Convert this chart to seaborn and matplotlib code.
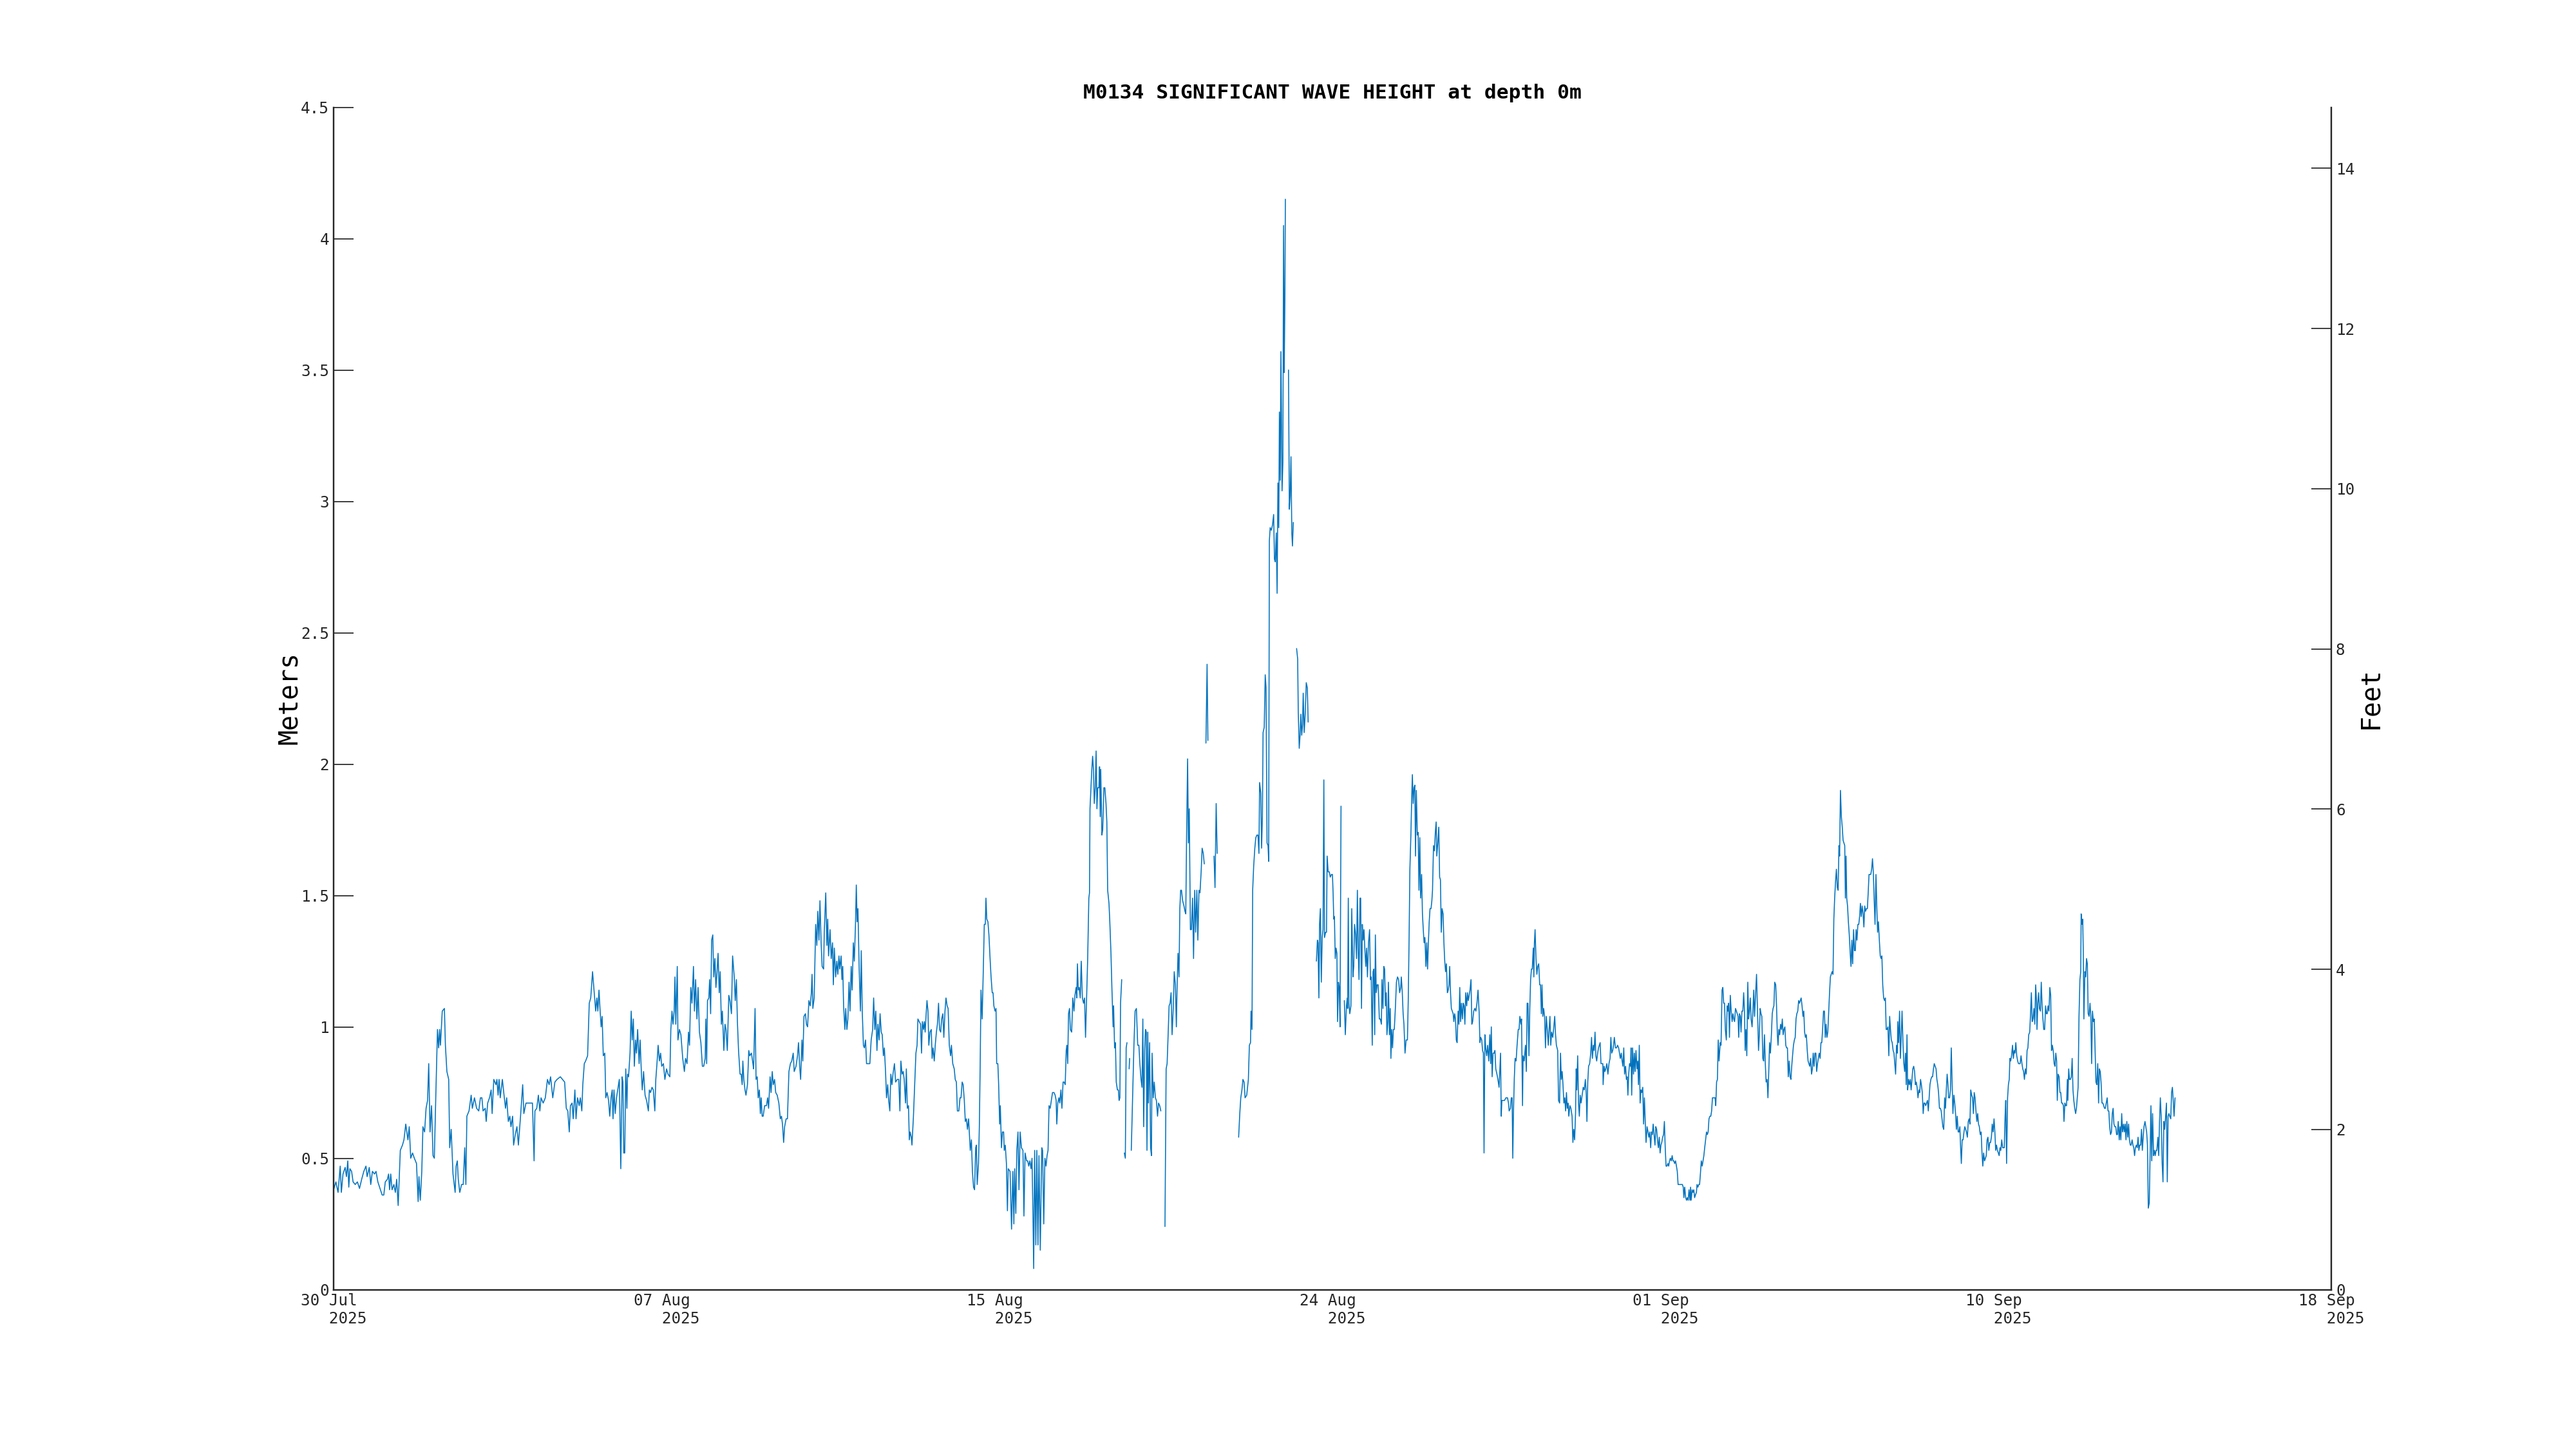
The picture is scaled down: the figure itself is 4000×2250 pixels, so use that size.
import numpy as np
import pandas as pd
import matplotlib
matplotlib.use("Agg")
import matplotlib.pyplot as plt
import seaborn as sns

GAP = None
START = pd.Timestamp("2025-07-30 00:00")
TITLE = "M0134 SIGNIFICANT WAVE HEIGHT at depth 0m"
M_TO_FT = 3.28084

# (hours since 30 Jul 2025 00:00, significant wave height in metres)
jul30_aug04 = [(0.0,0.38),(1.4,0.41),(2.7,0.37),(4.0,0.47),(4.7,0.37),(5.7,0.44),(7.0,0.465),(7.8,0.43),(8.6,0.49),(9.2,0.39),(9.9,0.46),(10.9,0.45),(11.8,0.41),(13.1,0.40),(14.4,0.41),(15.7,0.385),(17.0,0.42),(18.3,0.45),(19.6,0.47),(20.3,0.43),(21.6,0.465),(22.5,0.40),(23.5,0.45),(24.8,0.44),(25.7,0.45),(26.8,0.41),(28.1,0.385),(29.4,0.36),(30.4,0.36),(31.3,0.41),(32.6,0.42),(33.3,0.44),(33.9,0.38),(34.6,0.44),(35.4,0.38),(36.5,0.40),(37.4,0.37),(38.2,0.42),(39.1,0.32),(40.4,0.53),(41.7,0.55),(42.6,0.57),(43.7,0.63),(45.0,0.57),(45.8,0.62),(46.7,0.50),(47.8,0.52),(48.9,0.50),(50.2,0.48),(51.2,0.335),(51.7,0.43),(52.5,0.34),(53.4,0.45),(54.1,0.62),(55.1,0.60),(56.0,0.69),(56.9,0.72),(57.6,0.86),(58.4,0.60),(59.3,0.70),(60.2,0.51),(61.0,0.50),(61.9,0.74),(62.9,0.99),(63.6,0.92),(64.2,0.99),(64.7,0.93),(65.8,1.06),(67.1,1.07),(67.7,0.93),(68.6,0.83),(69.7,0.80),(70.3,0.54),(71.2,0.61),(72.3,0.44),(73.6,0.37),(74.2,0.47),(74.9,0.49),(75.5,0.42),(76.4,0.37),(77.5,0.40),(78.5,0.40),(79.4,0.54),(80.1,0.40),(80.7,0.66),(82.0,0.68),(83.3,0.74),(84.0,0.69),(85.3,0.73),(86.6,0.69),(87.9,0.68),(88.9,0.73),(89.8,0.73),(90.5,0.68),(91.8,0.69),(92.4,0.64),(93.3,0.71),(94.4,0.73),(95.4,0.76),(96.0,0.67),(97.0,0.80),(98.3,0.78),(98.9,0.80),(99.6,0.74),(100.2,0.80),(100.9,0.73),(102.2,0.80),(103.2,0.74),(104.1,0.69),(104.8,0.73),(105.8,0.64),(106.7,0.66),(107.4,0.62),(108.4,0.66),(109.0,0.55),(110.0,0.59),(111.0,0.62),(111.9,0.55),(113.2,0.66),(114.5,0.78),(115.2,0.67),(116.5,0.71),(117.8,0.71),(119.1,0.71),(120.4,0.71),(121.4,0.49),(121.9,0.68),(123.0,0.69),(124.0,0.74),(124.9,0.68),(125.6,0.73),(126.9,0.71),(128.2,0.73),(129.5,0.80),(130.5,0.78),(131.4,0.81),(132.7,0.73),(134.0,0.79),(135.3,0.80)]

aug04_aug10 = [(137.3,0.81),(138.6,0.80),(139.9,0.79),(140.9,0.69),(141.8,0.68),(142.7,0.60),(143.4,0.70),(144.4,0.71),(145.1,0.65),(146.1,0.76),(146.8,0.65),(147.7,0.73),(148.7,0.70),(149.4,0.73),(150.3,0.68),(150.9,0.78),(151.8,0.86),(152.6,0.87),(153.8,0.89),(154.8,1.09),(155.7,1.11),(156.8,1.21),(157.8,1.13),(158.7,1.06),(159.4,1.11),(160.0,1.06),(160.7,1.14),(161.3,1.07),(162.0,1.00),(162.6,1.04),(163.3,0.89),(164.2,0.90),(164.8,0.73),(165.6,0.75),(166.5,0.72),(167.2,0.66),(168.0,0.73),(168.7,0.76),(169.2,0.65),(169.8,0.76),(170.5,0.67),(171.3,0.73),(173.0,0.80),(173.9,0.46),(174.7,0.81),(175.2,0.79),(175.7,0.52),(176.3,0.52),(176.9,0.84),(177.6,0.69),(178.0,0.82),(178.6,0.81),(179.5,0.90),(180.2,1.06),(180.8,0.95),(181.5,1.03),(182.1,0.85),(182.8,0.95),(183.4,0.90),(184.1,0.99),(185.0,0.86),(185.6,0.95),(186.4,0.82),(186.9,0.76),(187.7,0.83),(188.6,0.74),(189.5,0.72),(190.6,0.68),(191.2,0.76),(191.9,0.75),(192.8,0.77),(193.6,0.76),(194.5,0.68),(195.1,0.80),(195.8,0.86),(196.5,0.93),(197.3,0.87),(198.0,0.90),(198.7,0.85),(199.7,0.86),(200.6,0.80),(201.6,0.84),(202.5,0.82),(203.6,0.81),(204.2,0.99),(204.9,1.06),(205.5,1.01),(206.2,1.06),(206.7,1.19),(207.2,1.01),(208.1,1.23),(208.5,0.95),(209.4,0.99),(210.3,0.97),(211.4,0.88),(212.4,0.83),(213.1,0.88),(214.0,0.86),(214.9,0.98),(215.5,0.93),(216.3,1.15),(217.0,1.09),(217.9,1.23),(218.5,1.06),(219.2,1.18),(220.0,1.03),(220.7,1.15),(221.5,0.98),(222.4,0.94),(223.3,0.85),(224.1,0.85),(225.0,0.88),(225.4,1.03),(225.9,0.86),(226.4,1.10),(227.2,1.11),(227.7,1.18),(228.3,1.05),(228.9,1.33),(229.6,1.35),(230.2,1.19),(230.9,1.26),(231.5,1.15),(232.2,1.21),(232.8,1.28),(233.5,1.13),(234.1,1.21),(234.8,1.01),(235.4,1.06),(236.3,0.91),(237.0,1.01),(237.6,0.99),(238.4,0.91),(239.3,1.12),(240.0,1.10),(240.9,1.05),(241.6,1.27),(242.6,1.19),(243.2,1.10),(243.9,1.18),(244.5,1.02),(245.2,0.91),(246.1,0.82),(246.8,0.82),(247.4,0.78),(247.8,0.87),(248.4,0.80),(249.1,0.76),(249.7,0.74),(250.6,0.78),(251.4,0.91),(252.0,0.89),(253.0,0.90),(253.9,0.86),(254.3,0.84),(255.2,1.07),(255.8,0.80),(256.5,0.81),(257.1,0.73),(257.8,0.76),(258.4,0.67),(258.9,0.73),(259.5,0.66),(260.1,0.66),(261.0,0.70),(262.1,0.70),(262.8,0.73),(263.4,0.69),(264.3,0.81),(264.9,0.75),(265.6,0.83),(266.2,0.78),(267.0,0.80),(267.7,0.75),(268.6,0.74),(269.6,0.71),(270.5,0.65),(271.2,0.66),(271.8,0.63),(272.5,0.56),(273.1,0.62),(274.0,0.65),(274.8,0.65),(275.7,0.83),(276.6,0.86),(277.4,0.87)]

aug10_aug17 = [(278.3,0.90),(278.9,0.83),(280.0,0.85),(280.9,0.89),(281.5,0.94),(282.2,0.85),(282.8,0.80),(283.6,0.95),(284.1,0.87),(284.8,1.04),(285.7,1.05),(286.3,1.01),(287.0,1.00),(287.8,1.10),(288.6,1.08),(289.3,1.13),(289.7,1.20),(290.2,1.07),(291.0,1.11),(291.9,1.39),(292.6,1.31),(293.2,1.44),(293.9,1.33),(294.5,1.48),(295.2,1.32),(295.8,1.23),(296.7,1.22),(297.1,1.36),(298.0,1.51),(298.7,1.31),(299.2,1.41),(299.7,1.27),(300.6,1.37),(301.3,1.26),(302.1,1.32),(302.6,1.16),(303.2,1.30),(304.0,1.19),(304.7,1.25),(305.3,1.20),(306.0,1.27),(306.5,1.22),(307.3,1.27),(307.8,1.18),(308.3,1.23),(308.8,1.08),(309.6,0.99),(310.1,1.07),(310.8,0.99),(311.4,1.03),(312.1,1.17),(312.7,1.06),(313.4,1.23),(314.0,1.14),(314.7,1.32),(315.3,1.25),(316.0,1.39),(316.5,1.54),(317.0,1.40),(317.5,1.45),(318.2,1.23),(319.0,1.06),(319.5,1.29),(320.1,1.06),(320.8,0.93),(321.4,0.92),(322.1,0.95),(322.7,0.86),(323.8,0.86),(324.7,0.86),(325.5,0.95),(326.4,0.99),(327.0,1.11),(327.7,0.99),(328.3,1.06),(329.0,0.91),(329.6,1.01),(330.3,0.95),(330.9,1.05),(331.6,0.98),(332.2,0.97),(332.9,0.89),(333.5,0.92),(334.2,0.83),(334.8,0.73),(335.5,0.78),(336.1,0.72),(336.8,0.68),(337.4,0.82),(338.1,0.78),(338.7,0.82),(339.6,0.86),(340.3,0.79),(341.3,0.80),(342.2,0.80),(342.9,0.68),(343.5,0.87),(344.2,0.82),(344.9,0.83),(345.5,0.80),(346.3,0.71),(346.8,0.84),(347.4,0.69),(348.1,0.70),(348.6,0.57),(349.1,0.60),(349.8,0.58),(350.2,0.55),(351.1,0.66),(352.0,0.80),(352.6,0.90),(353.3,0.93),(353.8,1.03),(354.6,1.02),(355.4,1.01),(356.0,0.90),(356.5,1.02),(357.2,0.99),(357.7,1.02),(358.2,0.98),(358.7,1.04),(359.3,1.10),(359.9,1.06),(360.4,0.93),(361.1,0.98),(361.9,0.99),(362.4,0.88),(363.0,0.92),(363.7,0.87),(364.3,0.93),(365.0,0.98),(365.6,1.01),(366.3,1.09),(366.9,0.99),(367.6,0.98),(368.2,1.03),(368.9,1.05),(369.5,0.96),(370.2,1.06),(370.8,1.11),(371.5,1.08),(372.1,1.07),(372.8,0.93),(373.6,0.89),(374.1,0.93),(374.9,0.86),(375.8,0.84),(376.4,0.80),(377.1,0.79),(377.7,0.68),(378.6,0.68),(379.3,0.73),(379.9,0.73),(380.6,0.79),(381.2,0.78),(381.9,0.72),(382.5,0.64),(383.2,0.65),(383.8,0.61),(384.5,0.65),(385.0,0.59),(385.5,0.53),(386.2,0.57),(386.8,0.45),(387.5,0.39),(388.1,0.38),(388.8,0.54),(389.2,0.55),(389.7,0.40),(390.5,0.48),(391.0,0.62),(391.5,0.85),(392.0,1.14),(392.7,1.03),(393.3,1.19),(394.0,1.39),(394.6,1.39),(395.0,1.49),(395.5,1.41),(396.2,1.40),(396.8,1.35),(397.5,1.26),(398.1,1.19),(398.8,1.13),(399.3,1.13),(399.8,1.08),(400.5,1.06),(401.1,1.07),(401.5,0.86),(402.2,0.86),(402.7,0.78),(403.3,0.63),(403.7,0.70),(404.4,0.54),(405.0,0.60),(405.7,0.60),(406.1,0.53),(406.7,0.55),(407.4,0.48),(408.0,0.30),(408.5,0.46),(409.6,0.45),(410.5,0.23),(411.3,0.45),(411.9,0.25),(412.4,0.46),(413.1,0.29),(413.7,0.53),(414.4,0.60),(415.0,0.38),(415.7,0.60),(416.5,0.54),(417.4,0.53)]

aug17_aug23 = [(418.0,0.28),(418.7,0.52),(419.6,0.49),(420.3,0.49),(420.9,0.47),(421.6,0.49),(422.3,0.46),(422.9,0.50),(423.5,0.27),(423.9,0.08),(424.5,0.53),(425.2,0.17),(425.8,0.53),(426.5,0.17),(427.1,0.51),(427.9,0.15),(428.8,0.54),(429.3,0.53),(430.0,0.25),(430.7,0.50),(431.4,0.47),(432.0,0.51),(432.6,0.53),(433.2,0.70),(433.9,0.69),(434.6,0.72),(435.3,0.75),(436.2,0.75),(436.9,0.74),(437.5,0.72),(437.9,0.63),(438.5,0.71),(439.2,0.73),(439.7,0.71),(440.4,0.76),(441.0,0.69),(441.7,0.79),(442.3,0.79),(443.0,0.78),(443.6,0.91),(444.0,0.93),(444.5,0.86),(445.0,1.05),(445.6,1.07),(446.1,0.99),(446.9,0.98),(447.6,1.11),(448.3,1.06),(448.9,1.12),(449.6,1.15),(450.0,1.11),(450.4,1.24),(450.9,1.14),(451.5,1.15),(452.1,1.11),(452.7,1.25),(453.4,1.11),(454.1,1.09),(454.7,1.11),(455.3,0.96),(456.0,1.12),(456.6,1.26),(457.3,1.49),(457.7,1.51),(458.0,1.83),(458.6,1.91),(459.1,1.98),(459.6,2.03),(460.1,1.98),(460.6,1.85),(461.2,1.91),(461.7,2.05),(462.2,1.83),(462.7,1.91),(463.4,1.91),(463.8,1.99),(464.2,1.80),(464.5,1.98),(465.2,1.73),(465.7,1.75),(466.4,1.91),(467.0,1.91),(467.7,1.85),(468.2,1.78),(468.7,1.52),(469.5,1.47),(470.0,1.40),(470.7,1.28),(471.3,1.14),(472.0,1.00),(472.3,1.08),(472.9,0.92),(473.4,0.94),(473.9,0.79),(474.6,0.76),(475.2,0.76),(475.6,0.72),(476.1,0.73),(476.5,1.09),(477.2,1.18),GAP,(478.8,0.52),(479.4,0.50),(479.9,0.92),(480.4,0.94),GAP,(481.7,0.84),(482.0,0.88),GAP,(483.0,0.53),(483.8,0.73),(484.6,0.93),(485.3,1.06),(486.1,1.07),(486.9,0.93),(487.6,0.93),(488.2,0.86),(488.9,0.80),(489.5,0.77),(490.0,1.03),(490.5,0.62),(491.1,0.91),(491.6,0.99),(492.1,0.98),(492.5,0.53),(493.0,0.98),(493.4,0.71),(494.1,0.94),(494.7,0.54),(495.2,0.51),(495.6,0.90),(496.3,0.73),(496.9,0.79),(497.6,0.73),(498.2,0.72),(498.9,0.66),(499.5,0.71),(500.2,0.70),(500.9,0.68),GAP,(503.4,0.24),(504.1,0.84),(504.7,0.86),(505.2,0.95),(505.9,1.08),(506.5,1.09),(507.1,1.13),(507.7,0.97),(508.4,1.07),(509.0,1.21),(509.7,1.16),(510.3,1.00),(510.7,1.14),(511.3,1.28),(511.9,1.19),(512.4,1.45),(512.9,1.52),(513.4,1.52),(514.1,1.48),(514.9,1.46),(515.5,1.44),(516.0,1.43),(516.5,1.73),(517.1,2.02),(517.6,1.70),(518.1,1.83),(518.8,1.37),(519.4,1.37),(520.1,1.49),(520.7,1.26),(521.4,1.52),(522.0,1.36),(522.7,1.52),(523.3,1.33),(524.0,1.52),(524.6,1.51),(525.3,1.59),(525.9,1.68),(526.6,1.66),(527.2,1.62),GAP,(528.2,2.08),(528.9,2.38),(529.4,2.09),GAP,(533.1,1.65),(533.7,1.53),(534.4,1.85),(535.0,1.66),GAP,(548.0,0.58),(548.7,0.67),(549.3,0.73),(550.0,0.76),(550.6,0.80),(551.3,0.79),(551.9,0.73),(552.9,0.74),(553.9,0.80),(554.5,0.93),(555.2,0.94),(555.5,1.06)]

aug23_storm = [(556.1,0.99),(556.5,1.52),(557.1,1.61),(557.8,1.68),(558.4,1.72),(559.05,1.73),(559.7,1.73),(560.3,1.66),(560.7,1.93),(561.4,1.89),(561.9,1.68),(562.4,1.80),(562.8,2.12),(563.5,2.14),(564.1,2.34),(564.6,2.29),(565.2,1.70),(565.8,1.69),(566.2,1.63),(566.6,2.85),(567.1,2.90),(567.8,2.89),(568.5,2.91),(569.2,2.95),(569.7,2.78),(570.2,2.77),(570.8,2.88),(571.3,2.65),(571.8,3.07),(572.3,2.90),(572.7,3.34),(573.2,3.08),(573.6,3.57),(574.3,3.04),(574.8,3.15),(575.2,4.05),(575.6,3.49),(576.0,3.76),(576.3,4.15),GAP,(578.2,3.50),(578.7,2.97),(579.2,3.02),(579.7,3.17),(580.2,2.88),(580.6,2.83),(581.1,2.92),GAP,(583.1,2.44),(583.75,2.40),(584.1,2.20),(584.7,2.06),(585.2,2.11),(585.7,2.19),(586.2,2.11),(586.7,2.15),(587.1,2.27),(587.7,2.12),(588.3,2.19),(588.95,2.31),(589.6,2.29),(590.1,2.16),GAP]

aug24_aug29 = [(595.1,1.25),(595.7,1.33),(596.1,1.32),(596.6,1.11),(597.0,1.39),(597.5,1.45),(598.05,1.17),(598.6,1.34),(599.1,1.37),(599.6,1.94),(600.0,1.34),(600.65,1.36),(601.2,1.36),(601.6,1.65),(602.2,1.59),(602.9,1.59),(603.5,1.57),(604.2,1.58),(604.8,1.58),(605.2,1.51),(605.6,1.41),(606.0,1.42),(606.5,1.26),(607.0,1.30),(607.5,1.28),(607.9,1.02),(608.45,1.17),(608.95,1.15),(609.4,1.00),(610.0,1.84),GAP,(612.0,1.10),(612.6,0.97),(613.3,1.08),(613.8,1.11),(614.0,1.07),(614.4,1.49),(614.8,1.09),(615.3,1.05),(616.0,1.08),(616.5,1.45),(617.2,1.19),(617.7,1.23),(618.2,1.39),(618.85,1.35),(619.4,1.26),(619.9,1.52),(620.4,1.30),(620.9,1.18),(621.5,1.49),(621.9,1.49),(622.4,1.07),(622.9,1.39),(623.4,1.33),(623.9,1.37),(624.4,1.30),(625.0,1.23),(625.5,1.30),(626.0,1.19),(626.65,1.32),(627.3,1.37),(627.8,1.18),(628.3,1.19),(628.9,0.93),(629.4,1.21),(629.9,1.22),(630.4,0.97),(630.8,1.35),(631.3,1.13),(631.85,1.16),(632.5,1.16),(633.2,1.03),(633.8,1.03),(634.45,1.01),(634.8,1.18),(635.4,1.07),(635.9,1.23),(636.4,1.22),(636.9,1.08),(637.4,1.13),(637.8,0.97),(638.35,1.02),(638.7,1.17),(639.3,0.97),(639.8,1.07),(640.2,0.88),(640.7,0.99),(641.2,0.92),(641.7,0.99),(642.25,0.99),(642.9,1.07),(643.55,1.17),(644.2,1.19),(644.85,1.18),(645.5,1.13),(646.15,1.15),(646.5,1.19),(647.1,1.13),(647.6,1.05),(648.1,1.01),(648.75,0.90),(649.4,0.95),(650.2,0.95),(650.7,1.10),(651.2,1.33),(651.7,1.60),(652.3,1.73),(652.8,1.87),(653.2,1.96),(653.7,1.85),(654.2,1.91),(654.7,1.92),(655.1,1.65),(655.6,1.90),(656.2,1.73),(656.7,1.74),(657.2,1.52),(657.7,1.72),(658.2,1.49),(658.8,1.58),(659.3,1.43),(659.8,1.37),(660.3,1.32),(660.8,1.34),(661.4,1.23),(661.9,1.32),(662.4,1.22),(662.9,1.32),(663.4,1.40),(663.9,1.45),(664.5,1.45),(665.0,1.48),(665.4,1.52),(666.0,1.69),(666.6,1.67),(667.1,1.74),(667.6,1.78),(668.0,1.65),(668.6,1.70),(669.2,1.76),(669.7,1.57),(670.2,1.56),(670.7,1.36),(671.2,1.45),(671.8,1.43),(672.3,1.32),(672.8,1.25),(673.3,1.21),(673.8,1.24),(674.4,1.13),(674.9,1.14),(675.4,1.16),(675.8,1.23),(676.3,1.13),(676.8,1.07),(677.35,1.06),(677.9,1.05),(678.3,1.02),(678.8,1.05),(679.3,1.03),(679.8,0.95),(680.3,0.94),(680.9,1.06),(681.4,1.01),(681.9,1.15),(682.4,1.02),(682.9,1.09),(683.5,1.03),(684.0,1.09),(684.5,1.08),(685.0,1.01),(685.5,1.13),(686.1,1.08),(686.6,1.13),(687.1,1.10),(687.6,1.12),(688.1,1.14),(688.7,1.18),(689.2,1.01),(689.7,1.02),(690.35,1.06),(691.0,1.07),(691.65,1.06),(692.3,1.09),(692.95,1.14),(693.6,1.06),(694.1,0.94),(694.6,0.96),(695.2,0.95),(695.7,0.91),(696.2,0.90),(696.6,0.52),(697.1,0.97),(697.6,0.92),(698.2,0.89)]

aug29_sep04 = [(698.8,0.93),(699.45,0.87),(700.1,0.97),(700.6,0.86),(701.0,1.00),(701.5,0.81),(702.05,0.90),(702.7,0.90),(703.2,0.91),(703.7,0.84),(704.4,0.82),(705.0,0.80),(705.7,0.77),(706.1,0.83),(706.6,0.90),(707.0,0.66),(707.4,0.72),(708.2,0.72),(709.0,0.72),(709.85,0.73),(710.8,0.73),(711.4,0.71),(711.8,0.68),(712.6,0.69),(713.1,0.73),(713.6,0.73),(714.0,0.50),(714.4,0.67),(714.9,0.80),(715.4,0.88),(716.0,0.87),(716.6,0.93),(717.3,0.99),(717.8,0.99),(718.3,1.04),(718.95,1.01),(719.3,1.03),(719.9,0.70),(720.25,0.89),(720.9,0.87),(721.7,0.93),(722.2,0.83),(722.7,1.09),(723.2,1.09),(723.8,0.89),(724.3,1.07),(724.8,1.18),(725.3,1.22),(725.8,1.22),(726.4,1.30),(726.75,1.19),(727.1,1.32),(727.5,1.37),(728.05,1.26),(728.6,1.20),(729.1,1.23),(729.7,1.24),(730.3,1.16),(730.8,1.16),(731.3,1.05),(731.7,1.16),(732.2,1.04),(732.7,1.07),(733.25,1.04),(733.8,0.92),(734.3,1.04),(734.9,0.99),(735.5,0.93),(736.0,0.99),(736.5,1.04),(737.0,0.93),(737.5,0.98),(738.2,0.96),(738.7,0.99),(739.4,1.04),(739.9,0.97),(740.4,0.93),(741.2,0.91),(741.7,0.72),(742.35,0.71),(742.9,0.90),(743.4,0.80),(743.9,0.83),(744.4,0.78),(744.95,0.71),(745.5,0.73),(746.0,0.68),(746.5,0.75),(747.0,0.69),(747.55,0.71),(747.9,0.66),(748.6,0.70),(749.2,0.69),(749.9,0.66),(750.4,0.56),(750.9,0.61),(751.45,0.57),(752.0,0.67),(752.4,0.84),(752.75,0.76),(753.3,0.89),(753.8,0.71),(754.3,0.66),(754.8,0.74),(755.35,0.71),(756.0,0.74),(756.65,0.77),(757.3,0.76),(757.95,0.80),(758.5,0.74),(758.9,0.64),(759.4,0.79),(759.9,0.85),(760.55,0.86),(761.2,0.90),(761.7,0.96),(762.2,0.88),(762.8,0.93),(763.3,0.91),(763.8,0.98),(764.3,0.89),(764.8,0.87),(765.4,0.90),(765.9,0.92),(766.4,0.93),(766.9,0.94),(767.4,0.86),(768.0,0.86),(768.5,0.86),(768.7,0.78),(769.3,0.85),(769.8,0.83),(770.3,0.84),(770.95,0.86),(771.6,0.82),(772.25,0.86),(772.9,0.88),(773.4,0.96),(773.9,0.90),(774.5,0.91),(775.0,0.93),(775.5,0.96),(776.15,0.92),(776.8,0.92),(777.45,0.93),(778.1,0.92),(778.6,0.90),(779.1,0.88),(779.7,0.90),(780.2,0.87),(780.7,0.85),(781.2,0.92),(781.7,0.82),(782.3,0.85),(782.8,0.80),(783.3,0.81),(783.7,0.74),(784.2,0.82),(784.7,0.86),(785.25,0.85),(785.6,0.92),(786.0,0.74),(786.55,0.92),(787.1,0.82),(787.6,0.90),(788.1,0.83),(788.6,0.91),(789.2,0.84),(789.7,0.87),(790.1,0.78),(790.6,0.93),(791.1,0.71),(791.6,0.76),(792.1,0.75),(792.7,0.77),(793.2,0.63),(793.7,0.73),(794.2,0.64),(794.7,0.56),(795.3,0.62),(795.9,0.60),(796.4,0.58),(796.95,0.60),(797.5,0.54),(798.0,0.60),(798.5,0.59),(799.0,0.63),(799.55,0.59),(800.1,0.55),(800.6,0.62),(801.1,0.61),(801.6,0.57),(802.15,0.54),(802.7,0.58),(803.2,0.52),(803.7,0.55),(804.2,0.56),(804.75,0.58),(805.3,0.59),(805.8,0.64),(806.3,0.54),(806.8,0.47),(807.35,0.47),(807.9,0.48),(808.4,0.47),(808.9,0.49),(809.4,0.50),(809.95,0.49),(810.5,0.51),(811.0,0.49),(811.5,0.49),(812.0,0.48),(812.55,0.49),(813.1,0.47),(813.6,0.45),(814.1,0.40),(814.6,0.40),(815.15,0.40),(815.7,0.40),(816.2,0.40),(816.7,0.40),(817.2,0.39),(817.6,0.35),(818.1,0.39),(818.7,0.35),(819.2,0.34),(819.7,0.35),(820.2,0.34),(820.7,0.38),(821.3,0.34),(821.65,0.39),(822.0,0.34),(822.6,0.38),(823.1,0.37),(823.6,0.38),(824.1,0.35),(824.6,0.36),(825.2,0.37),(825.55,0.40),(826.1,0.39),(826.6,0.40),(827.1,0.40),(827.6,0.44),(828.15,0.49),(828.7,0.47),(829.2,0.49),(829.7,0.51),(830.2,0.54),(830.75,0.57),(831.3,0.60),(831.8,0.59),(832.3,0.60),(832.8,0.65),(833.35,0.66),(833.9,0.66),(834.4,0.68),(834.9,0.73),(835.4,0.73),(835.95,0.73),(836.5,0.73),(836.9,0.70),(837.4,0.79),(837.9,0.80),(838.4,0.95),(838.9,0.87)]

sep04_sep09 = [(839.6,0.94),(840.1,0.93),(840.7,1.14),(841.2,1.15),(841.7,1.09),(842.2,1.09),(842.7,0.99),(843.3,0.95),(843.8,1.08),(844.3,1.06),(844.7,1.09),(845.2,0.96),(845.7,1.12),(846.25,1.06),(846.8,1.02),(847.3,1.05),(847.8,1.03),(848.3,1.02),(848.85,1.07),(849.4,1.06),(849.9,1.05),(850.4,1.04),(850.8,0.96),(851.3,1.05),(851.8,1.04),(852.2,0.98),(852.75,1.06),(853.3,1.06),(853.8,1.13),(854.3,1.06),(854.7,0.91),(855.2,0.99),(855.7,0.89),(856.3,1.17),(856.8,1.03),(857.3,1.06),(857.8,1.11),(858.3,1.03),(858.9,1.00),(859.4,1.06),(859.9,1.14),(860.4,1.04),(860.9,1.11),(861.6,1.20),(862.1,1.08),(862.8,0.91),(863.3,0.97),(863.8,1.07),(864.3,1.05),(864.8,1.04),(865.4,0.88),(865.9,0.87),(866.4,0.97),(866.9,0.86),(867.4,0.79),(868.0,0.80),(868.5,0.73),(869.0,0.83),(869.5,0.94),(870.0,0.90),(870.6,0.97),(871.1,1.05),(871.6,1.07),(872.1,1.08),(872.6,1.17),(873.2,1.16),(873.7,1.08),(874.2,0.97),(874.6,0.93),(875.1,0.99),(875.6,0.97),(876.15,1.01),(876.7,0.99),(877.2,1.03),(877.7,0.97),(878.2,0.99),(878.75,1.00),(879.3,0.93),(879.8,0.92),(880.3,0.92),(880.8,0.81),(881.35,0.87),(881.9,0.81),(882.4,0.80),(882.9,0.85),(883.4,0.89),(883.95,0.93),(884.5,0.95),(885.0,0.96),(885.5,1.03),(886.0,1.05),(886.55,1.06),(887.1,1.10),(887.6,1.09),(888.1,1.10),(888.6,1.11),(889.15,1.08),(889.7,1.04),(890.2,1.06),(890.7,0.98),(891.2,0.96),(891.75,0.97),(892.3,0.91),(892.8,0.87),(893.3,0.86),(893.8,0.85),(894.35,0.88),(894.9,0.82),(895.4,0.84),(895.9,0.90),(896.4,0.85),(896.95,0.90),(897.5,0.90),(898.0,0.83),(898.5,0.86),(899.0,0.88),(899.55,0.90),(900.1,0.88),(900.6,0.94),(901.1,0.94),(901.6,0.99),(902.15,1.06),(902.7,1.06),(903.2,0.96),(903.7,1.01),(904.2,0.96),(904.75,0.98),(905.3,1.06),(905.8,1.13),(906.3,1.19),(906.8,1.20),(907.35,1.21),(907.9,1.20),(908.4,1.41),(908.9,1.49),(909.4,1.55),(909.95,1.60),(910.5,1.53),(911.0,1.52),(911.5,1.69),(911.9,1.65),(912.4,1.90),(912.95,1.80),(913.5,1.76),(914.0,1.71),(914.5,1.70),(915.0,1.69),(915.4,1.49),(915.8,1.65),(916.2,1.49),(916.7,1.46),(917.2,1.40),(917.75,1.35),(918.3,1.28),(918.8,1.23),(919.3,1.33),(919.8,1.24),(920.35,1.37),(920.9,1.29),(921.4,1.29),(921.9,1.37),(922.4,1.33),(922.95,1.39),(923.5,1.39),(924.0,1.42),(924.5,1.47),(925.0,1.42),(925.55,1.46),(926.1,1.43),(926.6,1.38),(927.1,1.46),(927.6,1.44),(928.15,1.45),(928.7,1.45),(929.2,1.51),(929.7,1.58),(930.2,1.58),(930.75,1.58),(931.3,1.60),(931.8,1.64),(932.3,1.59),(932.8,1.49),(933.35,1.39),(933.9,1.58),(934.4,1.46),(934.9,1.36),(935.4,1.40),(935.95,1.33),(936.5,1.27),(937.0,1.26),(937.5,1.27),(938.0,1.16),(938.55,1.11),(939.1,1.10),(939.6,1.11),(940.1,0.99),(940.6,0.99),(941.15,1.00),(941.7,0.89),(942.2,1.04),(942.7,0.99),(943.2,0.95),(943.75,0.94),(944.3,0.91),(944.8,0.90),(945.3,0.86),(945.8,0.82),(946.35,0.93),(946.9,0.90),(947.1,1.02),(947.6,0.94),(948.2,1.06),(948.7,0.88),(949.2,0.96),(949.7,1.06),(950.25,0.94),(950.8,0.86),(951.3,0.83),(951.8,0.90),(952.2,0.78),(952.7,0.97),(953.1,0.76),(953.6,0.80),(954.15,0.78),(954.7,0.80),(955.2,0.76),(955.7,0.80),(956.2,0.84),(956.75,0.85),(957.3,0.83),(957.8,0.78),(958.3,0.79),(958.8,0.77),(959.35,0.73),(959.9,0.76),(960.4,0.75),(960.9,0.80),(961.4,0.78),(961.95,0.75),(962.5,0.67),(963.0,0.71),(963.5,0.71),(964.0,0.70),(964.55,0.71),(965.1,0.72),(965.6,0.68),(966.1,0.73),(966.6,0.78),(967.15,0.80),(967.7,0.81),(968.2,0.81),(968.7,0.84),(969.2,0.86),(969.75,0.85),(970.3,0.84),(970.8,0.80),(971.3,0.78),(971.8,0.75),(972.35,0.69),(972.9,0.69),(973.4,0.68),(973.9,0.65),(974.4,0.62),(974.95,0.61),(975.5,0.73),(976.0,0.69),(976.5,0.76),(977.0,0.82),(977.4,0.79),(977.9,0.73),(978.5,0.73),(979.0,0.76)]

sep09_sep14 = [(979.5,0.92),(980.0,0.80),(980.5,0.67),(981.1,0.74),(981.6,0.71),(982.1,0.67),(982.6,0.61),(983.1,0.66),(983.7,0.60),(984.2,0.60),(984.7,0.62),(985.1,0.55),(985.6,0.48),(986.1,0.57),(986.65,0.57),(987.2,0.60),(987.7,0.62),(988.2,0.61),(988.7,0.60),(989.25,0.58),(989.8,0.64),(990.3,0.65),(990.8,0.63),(991.3,0.76),(991.85,0.74),(992.4,0.73),(992.9,0.67),(993.4,0.75),(993.9,0.73),(994.45,0.68),(995.0,0.64),(995.5,0.67),(996.0,0.63),(996.5,0.62),(997.05,0.59),(997.6,0.60),(998.1,0.52),(998.6,0.47),(999.1,0.52),(999.65,0.49),(1000.2,0.50),(1000.7,0.51),(1001.2,0.57),(1001.7,0.58),(1002.25,0.53),(1002.8,0.56),(1003.3,0.56),(1003.8,0.58),(1004.3,0.63),(1004.85,0.60),(1005.4,0.65),(1005.9,0.60),(1006.4,0.53),(1006.9,0.55),(1007.45,0.53),(1008.0,0.52),(1008.5,0.51),(1009.0,0.54),(1009.5,0.53),(1010.05,0.57),(1010.6,0.54),(1011.1,0.54),(1011.6,0.54),(1012.1,0.66),(1012.5,0.72),(1013.0,0.48),(1013.6,0.73),(1014.1,0.78),(1014.6,0.80),(1015.0,0.88),(1015.5,0.87),(1016.0,0.89),(1016.6,0.93),(1017.1,0.88),(1017.6,0.91),(1018.1,0.90),(1018.6,0.94),(1019.15,0.89),(1019.7,0.87),(1020.2,0.86),(1020.7,0.86),(1021.2,0.86),(1021.75,0.89),(1022.3,0.86),(1022.8,0.84),(1023.3,0.83),(1023.8,0.80),(1024.35,0.84),(1024.9,0.82),(1025.4,0.91),(1025.9,0.92),(1026.4,0.97),(1027.0,0.98),(1027.5,1.05),(1028.0,1.13),(1028.5,1.02),(1029.0,1.03),(1029.55,1.07),(1030.1,1.01),(1030.6,1.16),(1031.1,1.10),(1031.4,0.99),(1031.9,1.09),(1032.4,1.13),(1032.9,1.07),(1033.45,1.06),(1034.0,1.17),(1034.5,1.08),(1035.0,1.03),(1035.5,0.99),(1036.05,0.99),(1036.6,1.08),(1037.1,1.05),(1037.6,1.05),(1038.1,1.08),(1038.65,1.06),(1039.2,1.15),(1039.7,1.12),(1040.2,0.91),(1040.7,0.93),(1041.25,0.91),(1041.8,0.86),(1042.3,0.85),(1042.8,0.90),(1043.3,0.87),(1043.7,0.72),(1044.2,0.82),(1044.8,0.81),(1045.3,0.75),(1045.8,0.75),(1046.3,0.71),(1046.8,0.71),(1047.4,0.70),(1047.75,0.64),(1048.3,0.71),(1048.8,0.70),(1049.3,0.70),(1049.8,0.80),(1050.1,0.72),(1050.6,0.84),(1051.1,0.80),(1051.65,0.80),(1052.2,0.81),(1052.7,0.88),(1053.2,0.76),(1053.7,0.72),(1054.25,0.69),(1054.8,0.67),(1055.3,0.69),(1055.8,0.73),(1056.3,0.77),(1056.85,1.04),(1057.4,1.18),(1057.9,1.21),(1058.15,1.43),(1058.7,1.39),(1059.1,1.41),(1059.45,1.28),(1059.8,1.03),(1060.4,1.21),(1060.9,1.19),(1061.4,1.26),(1061.9,1.24),(1062.4,1.05),(1062.95,1.04),(1063.5,1.09),(1064.0,1.04),(1064.5,0.86),(1065.0,1.06),(1065.55,1.02),(1066.1,1.03),(1066.6,0.91),(1067.1,0.79),(1067.6,0.78),(1068.2,0.86),(1068.7,0.71),(1069.2,0.84),(1069.7,0.83),(1070.2,0.79),(1070.75,0.71),(1071.3,0.71),(1071.8,0.70),(1072.3,0.69),(1072.8,0.69),(1073.35,0.71),(1073.9,0.73),(1074.4,0.68),(1074.9,0.68),(1075.4,0.62),(1075.95,0.59),(1076.5,0.60),(1077.0,0.67),(1077.5,0.69),(1078.0,0.63),(1078.55,0.62),(1079.1,0.62),(1079.6,0.59),(1080.1,0.59),(1080.6,0.64),(1081.2,0.57),(1081.7,0.62),(1082.2,0.57),(1082.7,0.67),(1083.2,0.60),(1083.8,0.63),(1084.3,0.60),(1084.8,0.63),(1085.3,0.57),(1085.8,0.64),(1086.4,0.58),(1086.9,0.63),(1087.4,0.57),(1087.9,0.55),(1088.4,0.55),(1089.0,0.57),(1089.5,0.55),(1090.0,0.54),(1090.5,0.51),(1091.0,0.54),(1091.6,0.55),(1092.1,0.54),(1092.6,0.58),(1093.1,0.53),(1093.6,0.55),(1094.2,0.55),(1094.7,0.61),(1095.2,0.53),(1095.7,0.58),(1096.2,0.62),(1096.8,0.64),(1097.3,0.62),(1097.8,0.60),(1098.3,0.55),(1098.8,0.31),(1099.4,0.33),(1099.9,0.51),(1100.4,0.70),(1100.9,0.49),(1101.4,0.67),(1102.0,0.51),(1102.5,0.53),(1103.0,0.51),(1103.5,0.53),(1104.0,0.53),(1104.6,0.58),(1105.1,0.51),(1105.6,0.64),(1106.1,0.73),(1106.6,0.66),(1107.2,0.48),(1107.7,0.41),(1108.2,0.64),(1108.7,0.61),(1109.2,0.65),(1109.8,0.71),(1110.3,0.41),(1110.8,0.66),(1111.3,0.67),(1111.8,0.66),(1112.4,0.65),(1112.9,0.75),(1113.4,0.77),(1113.9,0.72),(1114.4,0.66),(1115.0,0.73)]

segments = [jul30_aug04, aug04_aug10, aug10_aug17, aug17_aug23,
            aug23_storm, aug24_aug29, aug29_sep04, sep04_sep09, sep09_sep14]

# x-axis: 50.4 days from 30 Jul, six equal intervals
X_SPAN_DAYS = 50.4
N_TICKS = 7

rows = []
seg = 0
for block in segments:
    for p in block:
        if p is None:
            seg += 1
            continue
        rows.append((p[0] / 24.0, p[1], seg))
df = pd.DataFrame(rows, columns=["day", "hs", "seg"])

sns.set_theme(style="white")
plt.rcParams["font.family"] = ["DejaVu Sans Mono", "DejaVu Sans"]
AX_COL = "#262626"

fig = plt.figure(figsize=(16, 9), dpi=250)
ax = fig.add_axes([0.1295, 0.110, 0.905 - 0.1295, 0.926 - 0.110])

sns.lineplot(data=df, x="day", y="hs", units="seg", estimator=None,
             sort=False, color="#0072BD", linewidth=0.45, ax=ax, legend=False)

ax.set_xlim(0, X_SPAN_DAYS)
ax.set_ylim(0, 4.5)
xt = np.linspace(0, X_SPAN_DAYS, N_TICKS)
ax.set_xticks(xt)
labels = []
for d in xt:
    ts = START + pd.to_timedelta(d, unit="D")
    labels.append(f"{ts:%d %b}\n   {ts:%Y}")
ax.set_xticklabels(labels, fontsize=7, color=AX_COL, multialignment="left")
yt = np.arange(0, 4.51, 0.5)
ax.set_yticks(yt)
ax.set_yticklabels([f"{v:g}" for v in yt], fontsize=7, color=AX_COL)
ax.tick_params(axis="both", direction="in", length=9, width=0.5, color=AX_COL)
ax.tick_params(axis="x", pad=1.5)
ax.tick_params(axis="y", pad=2)
ax.set_xlabel("")
ax.set_ylabel("Meters", fontsize=11.5, color="black")
ax.yaxis.set_label_coords(-0.0156, 0.5)
for s in ["top", "right"]:
    ax.spines[s].set_visible(False)
for s in ["left", "bottom"]:
    ax.spines[s].set_color(AX_COL)
    ax.spines[s].set_linewidth(0.7)

ax.set_title(TITLE, fontsize=9, fontweight="bold", pad=4, color="black")

ax2 = ax.twinx()
ax2.set_ylim(0, 4.5 * M_TO_FT)
ft = np.arange(0, 15, 2)
ax2.set_yticks(ft)
ax2.set_yticklabels([f"{v:d}" for v in ft], fontsize=7, color=AX_COL)
ax2.tick_params(axis="y", direction="in", length=9, width=0.5, color=AX_COL, pad=2)
ax2.set_ylabel("Feet", fontsize=11.5, color="black")
ax2.yaxis.set_label_coords(1.0132, 0.5)
for s in ["top", "left", "bottom"]:
    ax2.spines[s].set_visible(False)
ax2.spines["right"].set_color(AX_COL)
ax2.spines["right"].set_linewidth(0.7)
ax2.grid(False)
ax.grid(False)

fig.savefig("out.png", dpi=250, facecolor="white")
